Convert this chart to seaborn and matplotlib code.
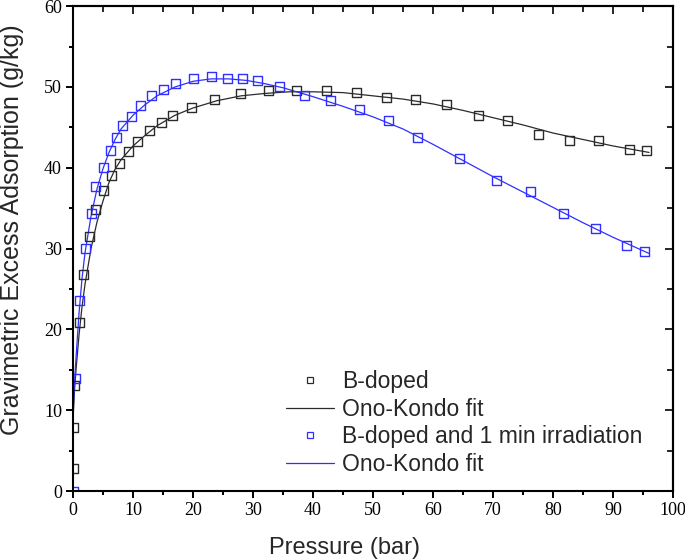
import matplotlib
matplotlib.use("Agg")
import matplotlib.pyplot as plt
from matplotlib.lines import Line2D
from matplotlib.ticker import MultipleLocator
import seaborn as sns

# measured points, B-doped
b_x = [0.05, 0.1, 0.2, 1.0, 1.7, 2.7, 3.8, 5.05, 6.4, 7.7, 9.2, 10.8, 12.7, 14.8, 16.6,
       19.8, 23.6, 27.9, 32.6, 37.3, 42.2, 47.2, 52.3, 57.1, 62.3, 67.5, 72.4, 77.6,
       82.7, 87.6, 92.7, 95.6]
b_y = [2.8, 7.8, 13.0, 20.9, 26.8, 31.5, 34.8, 37.2, 39.0, 40.5, 42.0, 43.3, 44.6, 45.6,
       46.5, 47.5, 48.5, 49.2, 49.6, 49.6, 49.6, 49.3, 48.7, 48.5, 47.8, 46.5, 45.8, 44.1,
       43.4, 43.4, 42.3, 42.1]

# measured points, B-doped + 1 min irradiation
irr_x = [0.0, 0.4, 1.05, 2.05, 3.1, 3.8, 5.05, 6.2, 7.3, 8.3, 9.7, 11.3, 13.1, 15.0, 17.1,
         20.1, 23.0, 25.8, 28.2, 30.8, 34.4, 38.5, 42.9, 47.7, 52.6, 57.4, 64.4, 70.6,
         76.3, 81.7, 87.1, 92.3, 95.3]
irr_y = [0.0, 13.9, 23.6, 30.0, 34.3, 37.7, 40.0, 42.1, 43.8, 45.2, 46.4, 47.7, 49.0, 49.7,
         50.4, 51.1, 51.3, 51.1, 51.1, 50.8, 50.0, 48.9, 48.3, 47.2, 45.9, 43.7, 41.1, 38.4,
         37.1, 34.4, 32.5, 30.4, 29.7]

# Ono-Kondo fit curves
fit_b_x = [0, 0.25, 0.5, 1, 1.5, 2, 3, 4, 5, 6, 7, 8, 10, 12, 14, 17, 20, 24, 28, 32, 36,
           40, 45, 50, 55, 60, 65, 70, 75, 80, 85, 90, 96]
fit_b_y = [8.8, 12.5, 15.0, 19.3, 22.8, 25.6, 30.0, 33.3, 35.9, 38.2, 39.8, 41.0, 42.7,
           44.0, 45.2, 46.5, 47.4, 48.3, 48.9, 49.2, 49.4, 49.4, 49.3, 48.9, 48.5, 47.9,
           47.1, 46.2, 45.3, 44.3, 43.5, 42.7, 41.9]
fit_irr_x = [0, 0.25, 0.5, 1, 1.5, 2, 3, 4, 5, 6, 7, 8, 10, 12, 14, 17, 20, 23, 26, 29, 32,
             35, 40, 45, 50, 55, 60, 65, 70, 75, 80, 85, 90, 96]
fit_irr_y = [9.5, 13.5, 16.5, 22.0, 26.3, 29.5, 34.0, 37.4, 39.9, 41.9, 43.5, 44.8, 46.5,
             47.8, 48.9, 50.0, 50.7, 51.0, 51.0, 50.8, 50.4, 49.9, 48.8, 47.6, 46.3, 44.8,
             42.9, 40.9, 38.9, 37.0, 35.1, 33.2, 31.4, 29.4]

black = "#2b2b2b"
blue = "#2f2fff"

sns.set_style("ticks")
plt.rcParams["font.family"] = ["Liberation Sans", "DejaVu Sans"]

fig = plt.figure(figsize=(6.85, 5.59), dpi=100)
ax = fig.add_axes([0.1066, 0.1216, 0.8759, 0.8674])

sns.lineplot(x=fit_b_x, y=fit_b_y, color=black, lw=0.9, ax=ax, sort=False)
sns.lineplot(x=fit_irr_x, y=fit_irr_y, color=blue, lw=0.9, ax=ax, sort=False)
sns.scatterplot(x=b_x, y=b_y, marker="s", s=42, facecolor="none", edgecolor=black,
                linewidth=1.0, ax=ax, zorder=3)
sns.scatterplot(x=irr_x, y=irr_y, marker="s", s=42, facecolor="none", edgecolor=blue,
                linewidth=1.0, ax=ax, zorder=3)

ax.set_xlim(0, 100)
ax.set_ylim(0, 60)
ax.xaxis.set_major_locator(MultipleLocator(10))
ax.xaxis.set_minor_locator(MultipleLocator(5))
ax.yaxis.set_major_locator(MultipleLocator(10))
ax.yaxis.set_minor_locator(MultipleLocator(5))

for s in ax.spines.values():
    s.set_visible(True)
    s.set_linewidth(1.5)
    s.set_color("black")
    s.set_zorder(4)

ax.tick_params(which="both", direction="out", width=1.4, colors="black")
ax.tick_params(which="major", length=5)
ax.tick_params(which="minor", length=3)
ax.tick_params(axis="both", labelsize=13, pad=3)
for lab in ax.get_xticklabels() + ax.get_yticklabels():
    lab.set_fontfamily("Liberation Serif")

# mirrored ticks on top and right, pointing inward
top = ax.secondary_xaxis("top")
top.xaxis.set_major_locator(MultipleLocator(10))
top.xaxis.set_minor_locator(MultipleLocator(5))
top.tick_params(which="both", direction="in", width=1.4, labeltop=False)
top.tick_params(which="major", length=6)
top.tick_params(which="minor", length=4)
right = ax.secondary_yaxis("right")
right.yaxis.set_major_locator(MultipleLocator(10))
right.yaxis.set_minor_locator(MultipleLocator(5))
right.tick_params(which="both", direction="in", width=1.4, labelright=False)
right.tick_params(which="major", length=6)
right.tick_params(which="minor", length=4)
top.spines["top"].set_linewidth(1.5)
right.spines["right"].set_linewidth(1.5)

ax.set_xlabel("Pressure (bar)", fontsize=17)
ax.set_ylabel("Gravimetric Excess Adsorption (g/kg)", fontsize=18)
ax.xaxis.label.set_va("center")
ax.yaxis.label.set_va("center")
ax.xaxis.set_label_coords(0.453, -0.1175)
ax.yaxis.set_label_coords(-0.102, 0.538)

handles = [
    Line2D([], [], ls="none", marker="s", ms=4, mfc="none", mec=black, mew=0.9),
    Line2D([], [], color=black, lw=0.9),
    Line2D([], [], ls="none", marker="s", ms=4, mfc="none", mec=blue, mew=0.9),
    Line2D([], [], color=blue, lw=0.9),
]
labels = ["B-doped", "Ono-Kondo fit", "B-doped and 1 min irradiation", "Ono-Kondo fit"]
ax.legend(handles, labels, loc="upper left", bbox_to_anchor=(286 / 685, 1 - 370 / 559),
          bbox_transform=fig.transFigure, frameon=False, fontsize=16.5,
          handlelength=2.1, handletextpad=0.35, labelspacing=0.2,
          borderpad=0, borderaxespad=0)

fig.savefig("out.png", dpi=100)
